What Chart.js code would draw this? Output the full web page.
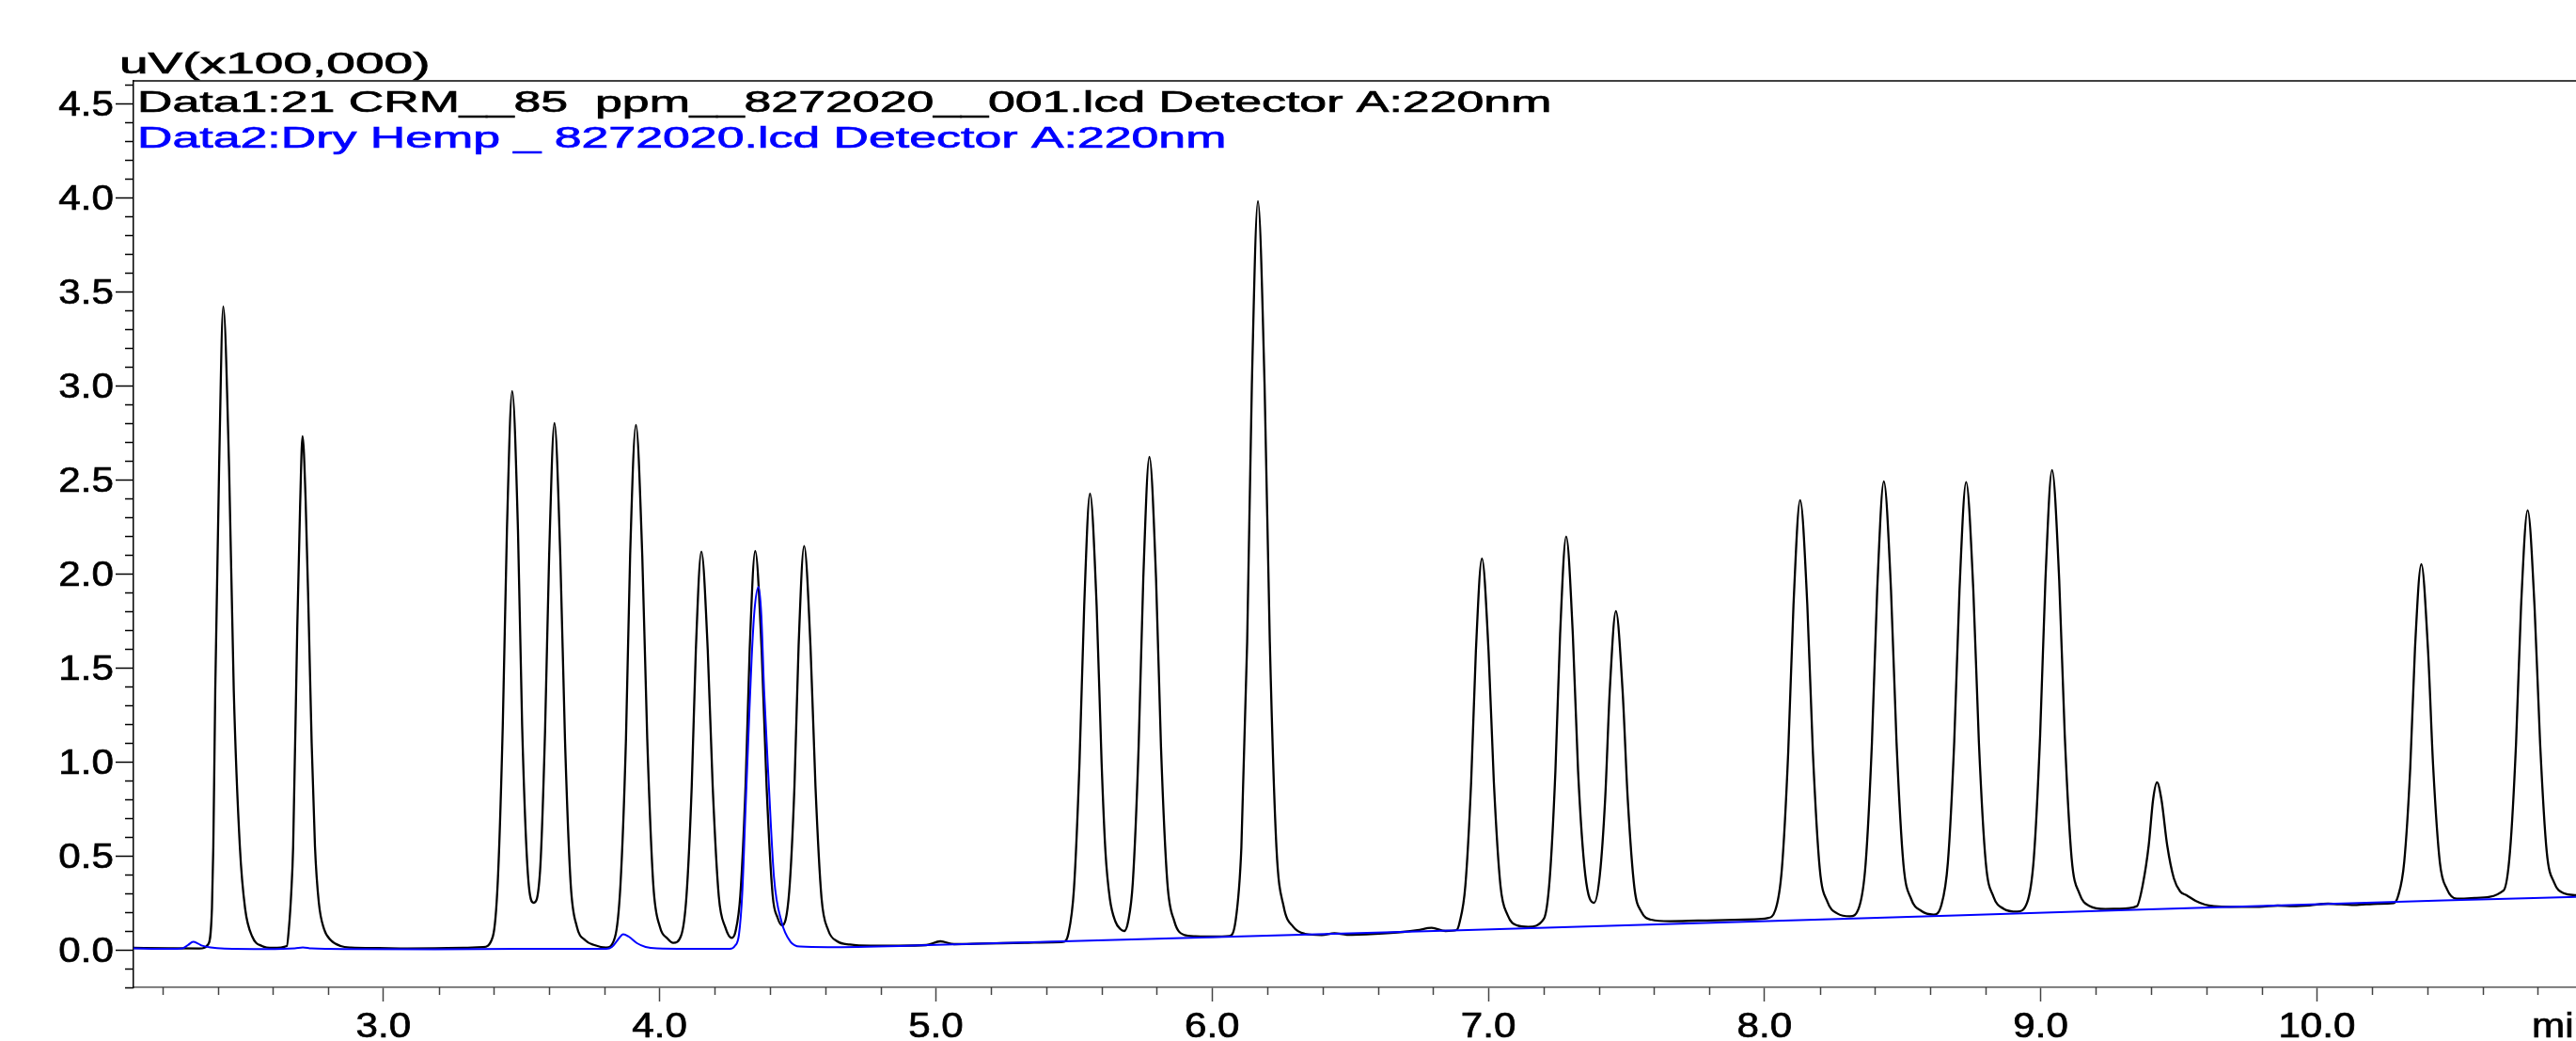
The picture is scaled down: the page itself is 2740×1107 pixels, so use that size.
<!DOCTYPE html>
<html lang="en">
<head>
<meta charset="UTF-8">
<title>Chromatogram - CRM vs Dry Hemp</title>
<script src="https://cdn.jsdelivr.net/npm/chart.js"></script>
<style>
    * { margin: 0; padding: 0; box-sizing: border-box; }
    body { background: #fff; }
    .chart-wrap { width: 2740px; height: 1107px; position: relative; }
</style>
</head>
<body>
<div class="chart-wrap"><canvas id="chromChart"></canvas></div>
<script>
// axis ranges: retention time (min) and signal (uV x 100,000)
const timeRange = [2.095, 10.938];
const signalRange = [-0.2, 4.62];
const xTickStep = 1, xMinorStep = 0.2;
const yTickStep = 0.5, yMinorStep = 0.1;

const axisUnit = 'uV(x100,000)';
const timeUnit = 'min';
const traceLabels = [
    'Data1:21 CRM__85  ppm__8272020__001.lcd Detector A:220nm',
    'Data2:Dry Hemp _ 8272020.lcd Detector A:220nm'
];

// Data1 (CRM standard) as [time, signal]
const crmTrace = [
    [2.090, 0.010], [2.222, 0.008], [2.334, 0.007],
    [2.366, 0.030], [2.379, 0.220], [2.384, 0.550], [2.391, 1.380], [2.405, 2.567], [2.420, 3.420],
    [2.441, 2.567], [2.458, 1.380], [2.480, 0.550], [2.499, 0.220], [2.525, 0.070], [2.560, 0.020], [2.600, 0.010],
    [2.650, 0.020], [2.658, 0.120], [2.666, 0.300], [2.673, 0.550], [2.688, 1.720], [2.698, 2.350], [2.707, 2.730],
    [2.718, 2.400], [2.730, 1.720], [2.740, 1.100], [2.752, 0.550], [2.766, 0.250], [2.785, 0.110], [2.810, 0.050],
    [2.845, 0.020], [2.882, 0.012],
    [2.984, 0.009], [3.085, 0.007], [3.187, 0.008], [3.289, 0.010], [3.360, 0.014],
    [3.396, 0.071], [3.414, 0.367], [3.432, 1.195], [3.447, 2.230], [3.466, 2.970], [3.487, 2.230], [3.502, 1.195], [3.523, 0.400], [3.544, 0.250],
    [3.567, 0.420], [3.585, 1.160], [3.600, 2.103], [3.619, 2.800], [3.640, 2.103], [3.657, 1.127], [3.678, 0.347],
    [3.700, 0.124], [3.731, 0.050], [3.764, 0.025], [3.806, 0.012],
    [3.838, 0.066], [3.858, 0.344], [3.878, 1.122], [3.893, 2.095], [3.914, 2.790], [3.937, 2.095], [3.955, 1.122],
    [3.977, 0.344], [4.001, 0.121], [4.028, 0.060], [4.049, 0.037],
    [4.078, 0.077], [4.097, 0.285], [4.116, 0.867], [4.131, 1.595], [4.151, 2.117], [4.174, 1.595], [4.192, 0.867],
    [4.214, 0.285], [4.238, 0.118], [4.261, 0.063],
    [4.275, 0.100], [4.292, 0.290], [4.311, 0.872], [4.326, 1.600], [4.346, 2.120], [4.369, 1.600], [4.387, 0.872],
    [4.409, 0.290], [4.427, 0.170], [4.443, 0.130],
    [4.469, 0.310], [4.488, 0.871], [4.503, 1.615], [4.523, 2.147], [4.546, 1.615], [4.564, 0.871], [4.586, 0.275],
    [4.610, 0.105], [4.643, 0.045], [4.689, 0.028],
    [4.762, 0.022], [4.864, 0.022], [4.965, 0.025], [5.016, 0.045], [5.066, 0.030], [5.168, 0.033], [5.320, 0.037], [5.420, 0.040], [5.460, 0.042],
    [5.480, 0.088], [5.500, 0.326], [5.520, 0.994], [5.537, 1.829], [5.558, 2.425], [5.582, 1.829], [5.600, 0.994],
    [5.614, 0.520], [5.630, 0.270], [5.650, 0.150], [5.668, 0.110], [5.682, 0.100], [5.696, 0.150],
    [5.713, 0.358], [5.734, 1.078], [5.751, 1.978], [5.773, 2.620], [5.797, 1.978], [5.815, 1.078], [5.838, 0.358],
    [5.863, 0.153], [5.897, 0.080],
    [5.940, 0.072], [6.001, 0.070], [6.062, 0.073],
    [6.085, 0.153], [6.106, 0.544], [6.127, 1.637], [6.144, 3.004], [6.166, 3.980], [6.190, 3.004], [6.209, 1.637],
    [6.233, 0.544], [6.259, 0.231], [6.294, 0.122],
    [6.336, 0.085], [6.397, 0.078], [6.443, 0.088], [6.488, 0.080], [6.590, 0.085], [6.692, 0.095], [6.743, 0.104],
    [6.795, 0.117], [6.845, 0.100], [6.885, 0.105],
    [6.896, 0.145], [6.917, 0.342], [6.938, 0.895], [6.955, 1.586], [6.977, 2.080], [7.001, 1.586], [7.020, 0.895],
    [7.044, 0.342], [7.070, 0.184], [7.105, 0.129], [7.145, 0.122],
    [7.201, 0.164], [7.222, 0.371], [7.243, 0.952], [7.260, 1.678], [7.282, 2.197], [7.306, 1.678], [7.325, 0.952], [7.351, 0.400], [7.383, 0.250],
    [7.404, 0.400], [7.423, 0.798], [7.440, 1.383], [7.462, 1.800], [7.486, 1.383], [7.505, 0.798], [7.529, 0.330],
    [7.555, 0.200], [7.590, 0.160],
    [7.657, 0.152], [7.759, 0.155], [7.860, 0.158], [7.962, 0.162], [8.010, 0.168],
    [8.039, 0.210], [8.063, 0.432], [8.086, 1.055], [8.105, 1.834], [8.129, 2.390], [8.155, 1.834], [8.175, 1.055],
    [8.200, 0.432], [8.228, 0.254], [8.265, 0.192], [8.310, 0.178],
    [8.342, 0.224], [8.366, 0.455], [8.389, 1.103], [8.408, 1.912], [8.432, 2.490], [8.458, 1.912], [8.478, 1.103],
    [8.503, 0.455], [8.531, 0.270], [8.568, 0.206], [8.612, 0.187],
    [8.640, 0.236], [8.664, 0.466], [8.687, 1.109], [8.706, 1.913], [8.730, 2.487], [8.756, 1.913], [8.776, 1.109],
    [8.801, 0.466], [8.829, 0.282], [8.866, 0.218], [8.915, 0.203],
    [8.951, 0.252], [8.975, 0.486], [8.998, 1.143], [9.017, 1.964], [9.041, 2.550], [9.067, 1.964], [9.087, 1.143],
    [9.112, 0.486], [9.140, 0.299], [9.177, 0.233], [9.234, 0.217], [9.283, 0.218],
    [9.348, 0.232], [9.370, 0.350], [9.391, 0.555], [9.407, 0.800], [9.421, 0.890], [9.437, 0.800], [9.458, 0.555],
    [9.482, 0.380], [9.505, 0.310], [9.528, 0.290], [9.561, 0.260], [9.595, 0.240], [9.627, 0.232], [9.688, 0.228],
    [9.791, 0.228], [9.858, 0.235], [9.913, 0.232], [9.974, 0.236], [10.040, 0.245], [10.136, 0.238], [10.220, 0.245], [10.278, 0.248],
    [10.294, 0.286], [10.316, 0.466], [10.338, 0.970], [10.355, 1.600], [10.378, 2.050], [10.402, 1.600], [10.421, 0.970],
    [10.445, 0.466], [10.471, 0.322], [10.506, 0.272], [10.571, 0.275],
    [10.676, 0.316], [10.699, 0.522], [10.721, 1.100], [10.739, 1.822], [10.763, 2.337], [10.788, 1.822], [10.808, 1.100],
    [10.832, 0.522], [10.859, 0.357], [10.895, 0.300], [10.938, 0.290]
];

// Data2 (Dry Hemp)
const hempTrace = [
    [2.090, 0.008], [2.222, 0.005], [2.273, 0.008], [2.292, 0.025], [2.311, 0.042], [2.330, 0.032], [2.344, 0.022],
    [2.374, 0.012], [2.425, 0.006], [2.577, 0.004], [2.679, 0.008], [2.708, 0.013], [2.740, 0.007], [2.882, 0.004],
    [3.187, 0.003], [3.492, 0.005], [3.807, 0.005], [3.827, 0.015], [3.847, 0.050], [3.868, 0.083], [3.888, 0.070],
    [3.918, 0.035], [3.949, 0.015], [3.990, 0.007], [4.101, 0.005], [4.254, 0.005],
    [4.272, 0.020], [4.287, 0.080], [4.299, 0.300], [4.310, 0.717], [4.323, 1.200], [4.333, 1.550], [4.343, 1.800],
    [4.358, 1.930], [4.368, 1.780], [4.378, 1.383], [4.395, 0.883], [4.414, 0.383], [4.441, 0.150], [4.474, 0.042],
    [4.508, 0.017], [4.609, 0.014], [4.914, 0.022], [5.158, 0.033], [6.926, 0.105], [8.691, 0.183], [10.459, 0.262], [10.938, 0.281]
];

const toPoints = arr => arr.map(p => ({ x: p[0], y: p[1] }));

// the original screenshot is stretched sideways, so text is drawn scaled in x
function drawStretched(ctx, text, x, y, sx, font, color, align) {
    ctx.save();
    ctx.font = font;
    const w = ctx.measureText(text).width * sx;
    let left = x;
    if (align === 'center') left = x - w / 2;
    if (align === 'right') left = x - w;
    ctx.translate(left, y);
    ctx.scale(sx, 1);
    ctx.fillStyle = color;
    ctx.strokeStyle = color;
    ctx.lineWidth = 0.7;
    ctx.textBaseline = 'alphabetic';
    ctx.textAlign = 'left';
    ctx.fillText(text, 0, 0);
    ctx.strokeText(text, 0, 0);
    ctx.restore();
}

const headFont = "32px 'Liberation Sans', Arial, sans-serif";
const tickFont = "37px 'Liberation Sans', Arial, sans-serif";

// frame line, minor ticks, tick labels and the header texts
const chromDecor = {
    id: 'chromDecor',
    afterDraw(chart) {
        const { ctx, chartArea: area, scales } = chart;
        const xs = scales.x, ys = scales.y;
        ctx.save();
        ctx.strokeStyle = '#000';
        ctx.lineWidth = 1.5;
        ctx.beginPath();
        ctx.moveTo(area.left, area.top);
        ctx.lineTo(area.right, area.top);
        ctx.stroke();

        // minor x ticks
        ctx.strokeStyle = '#444';
        for (let i = Math.ceil(timeRange[0] / xMinorStep); i * xMinorStep <= timeRange[1]; i++) {
            const v = i * xMinorStep;
            if (Math.abs(v - Math.round(v)) < 1e-6) continue;
            const px = Math.round(xs.getPixelForValue(v)) + 0.5;
            ctx.beginPath();
            ctx.moveTo(px, area.bottom);
            ctx.lineTo(px, area.bottom + 8);
            ctx.stroke();
        }
        // minor y ticks
        ctx.strokeStyle = '#000';
        for (let i = Math.ceil(signalRange[0] / yMinorStep); i * yMinorStep <= signalRange[1]; i++) {
            const v = i * yMinorStep;
            if (Math.abs(v / yTickStep - Math.round(v / yTickStep)) < 1e-6) continue;
            const py = Math.round(ys.getPixelForValue(v)) + 0.5;
            ctx.beginPath();
            ctx.moveTo(area.left - 9, py);
            ctx.lineTo(area.left, py);
            ctx.stroke();
        }
        ctx.restore();

        // tick labels from the scales' own ticks
        xs.ticks.forEach(t => {
            drawStretched(ctx, Number(t.value).toFixed(1), xs.getPixelForValue(t.value), area.bottom + 53, 1.14, tickFont, '#000', 'center');
        });
        ys.ticks.forEach(t => {
            drawStretched(ctx, Number(t.value).toFixed(1), area.left - 21, ys.getPixelForValue(t.value) + 13, 1.14, tickFont, '#000', 'right');
        });
        drawStretched(ctx, timeUnit, 2693, area.bottom + 53, 1.14, tickFont, '#000', 'left');

        drawStretched(ctx, axisUnit, 127, 78, 1.72, headFont, '#000', 'left');
        drawStretched(ctx, traceLabels[0], 146, 119, 1.62, headFont, '#000', 'left');
        drawStretched(ctx, traceLabels[1], 146, 157, 1.62, headFont, '#0000ff', 'left');
    }
};

const ctx = document.getElementById('chromChart').getContext('2d');
new Chart(ctx, {
    type: 'line',
    data: {
        datasets: [
            {
                label: traceLabels[0],
                data: toPoints(crmTrace),
                borderColor: '#000000',
                borderWidth: 2.3,
                pointRadius: 0,
                fill: false,
                cubicInterpolationMode: 'monotone',
                order: 1
            },
            {
                label: traceLabels[1],
                data: toPoints(hempTrace),
                borderColor: '#0000ff',
                borderWidth: 2,
                pointRadius: 0,
                fill: false,
                cubicInterpolationMode: 'monotone',
                order: 0
            }
        ]
    },
    options: {
        responsive: true,
        maintainAspectRatio: false,
        animation: false,
        devicePixelRatio: 1,
        layout: { padding: { top: 86, left: 0, right: 0, bottom: 0 } },
        plugins: {
            legend: { display: false },
            tooltip: { enabled: false },
            title: { display: false }
        },
        scales: {
            x: {
                type: 'linear',
                min: timeRange[0],
                max: timeRange[1],
                afterFit: s => { s.height = 57; },
                border: { display: true, color: '#555', width: 1.5 },
                grid: { drawOnChartArea: false, tickLength: 15, tickColor: '#444', tickWidth: 1.5 },
                ticks: { display: false, stepSize: xTickStep, includeBounds: false, autoSkip: false }
            },
            y: {
                min: signalRange[0],
                max: signalRange[1],
                afterFit: s => { s.width = 142; },
                border: { display: true, color: '#000', width: 1.5 },
                grid: { drawOnChartArea: false, tickLength: 19, tickColor: '#000', tickWidth: 1.5 },
                ticks: { display: false, stepSize: yTickStep, includeBounds: false }
            }
        }
    },
    plugins: [chromDecor]
});
</script>
</body>
</html>
